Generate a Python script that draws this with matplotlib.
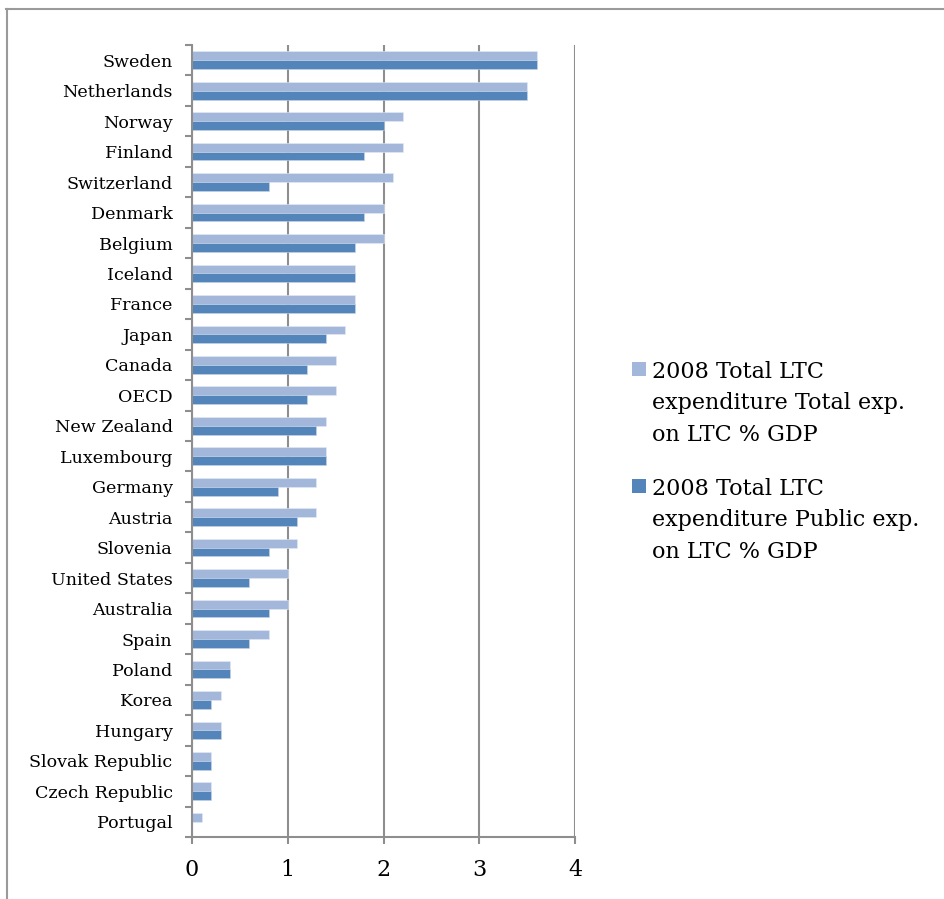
import matplotlib
matplotlib.use("Agg")
import matplotlib.pyplot as plt
from matplotlib.patches import Rectangle
from matplotlib.lines import Line2D
import numpy as np

countries = ["Sweden", "Netherlands", "Norway", "Finland", "Switzerland", "Denmark",
             "Belgium", "Iceland", "France", "Japan", "Canada", "OECD", "New Zealand",
             "Luxembourg", "Germany", "Austria", "Slovenia", "United States", "Australia",
             "Spain", "Poland", "Korea", "Hungary", "Slovak Republic", "Czech Republic",
             "Portugal"]
total_exp = [3.6, 3.5, 2.2, 2.2, 2.1, 2.0, 2.0, 1.7, 1.7, 1.6, 1.5, 1.5, 1.4, 1.4,
             1.3, 1.3, 1.1, 1.0, 1.0, 0.8, 0.4, 0.3, 0.3, 0.2, 0.2, 0.1]
public_exp = [3.6, 3.5, 2.0, 1.8, 0.8, 1.8, 1.7, 1.7, 1.7, 1.4, 1.2, 1.2, 1.3, 1.4,
              0.9, 1.1, 0.8, 0.6, 0.8, 0.6, 0.4, 0.2, 0.3, 0.2, 0.2, 0.0]
series_labels = ["2008 Total LTC\nexpenditure Total exp.\non LTC % GDP",
                 "2008 Total LTC\nexpenditure Public exp.\non LTC % GDP"]
x_ticks = [0, 1, 2, 3, 4]

light = "#A3B7DA"
dark = "#5485BA"
grid_c = "#8E8E8E"
serif = ["DejaVu Serif"]

W, H = 944, 899
fig = plt.figure(figsize=(W / 100, H / 100), dpi=100)
ax = fig.add_axes([192 / W, 1 - 837 / H, (575 - 192) / W, (837 - 45) / H])

y = np.arange(len(countries))
h = 0.29
ax.barh(y - h / 2, total_exp, height=h, color=light, edgecolor="#E4EAF4", linewidth=0.4, zorder=3)
ax.barh(y + h / 2, public_exp, height=h, color=dark, edgecolor="#C9D6E8", linewidth=0.4, zorder=3)

ax.set_ylim(len(countries) - 0.5, -0.5)
ax.set_xlim(0, 4)
ax.set_xticks(x_ticks)
ax.set_xticklabels([str(t) for t in x_ticks], family=serif, fontsize=16)
ax.set_yticks(y)
ax.set_yticklabels(countries, family=serif, fontsize=12.6)
ax.set_yticks(np.arange(-0.5, len(countries) + 0.5, 1), minor=True)
ax.tick_params(axis="y", which="major", length=0, pad=14)
ax.tick_params(axis="y", which="minor", length=5, width=1.5, color=grid_c, direction="out")
ax.tick_params(axis="x", which="major", length=5, width=1.5, color=grid_c, direction="out", pad=11)

ax.grid(axis="x", color=grid_c, linewidth=1.5, zorder=0)
ax.set_axisbelow(True)
for s in ["top", "right"]:
    ax.spines[s].set_visible(False)
for s in ["left", "bottom"]:
    ax.spines[s].set_color(grid_c)
    ax.spines[s].set_linewidth(1.5)
ax.spines["left"].set_zorder(4)

# legend drawn in figure coordinates
colors = [light, dark]
sq_tops = [362, 479]
for c, lab, st in zip(colors, series_labels, sq_tops):
    fig.patches.append(Rectangle((632 / W, 1 - (st + 14) / H), 14 / W, 14 / H,
                                 transform=fig.transFigure, facecolor=c, edgecolor="none"))
    fig.text(652 / W, 1 - (st - 1) / H, lab, family=serif, fontsize=16, va="top",
             ha="left", linespacing=1.55)

# outer frame
fig.add_artist(Line2D([6 / W, 1], [1 - 8.5 / H, 1 - 8.5 / H], transform=fig.transFigure,
                      color="#9A9A9A", linewidth=1.5))
fig.add_artist(Line2D([6.5 / W, 6.5 / W], [0, 1 - 8.5 / H], transform=fig.transFigure,
                      color="#9A9A9A", linewidth=1.5))

fig.savefig("out.png", dpi=100)
